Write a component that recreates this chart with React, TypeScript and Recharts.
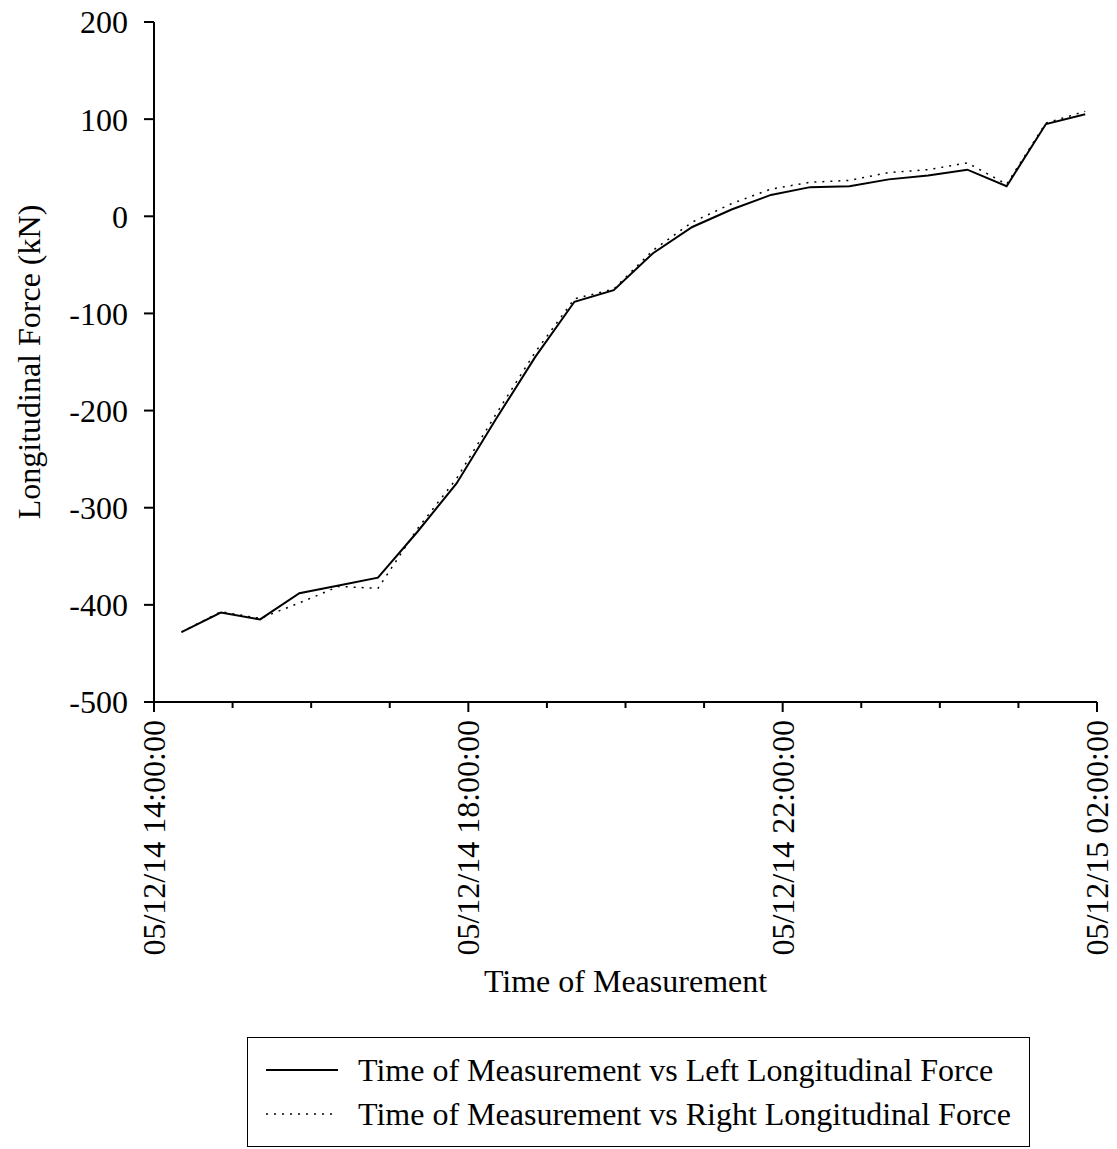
import React from 'react';
import { LineChart, Line, XAxis, YAxis, Legend } from 'recharts';

// hours after 05/12/14 14:00:00
const hours = [
  0.35, 0.85, 1.35, 1.85, 2.35, 2.85, 3.35, 3.85, 4.35, 4.85, 5.35, 5.85,
  6.35, 6.85, 7.35, 7.85, 8.35, 8.85, 9.35, 9.85, 10.35, 10.85, 11.35, 11.85,
];
const leftForce = [
  -428, -408, -415, -388, -380, -372, -325, -275, -209, -145, -88, -76,
  -38, -11, 7, 22, 30, 31, 38, 42, 48, 31, 95, 105,
];
const rightForce = [
  -428, -407, -414, -398, -381, -383, -322, -270, -204, -140, -85, -75,
  -35, -6, 13, 28, 35, 37, 45, 48, 55, 33, 96, 108,
];

const hourTicks = [0, 1, 2, 3, 4, 5, 6, 7, 8, 9, 10, 11, 12];
const majorTicks = [0, 4, 8, 12];
const majorLabels = ['05/12/14 14:00:00', '05/12/14 18:00:00', '05/12/14 22:00:00', '05/12/15 02:00:00'];
const yTicks = [-500, -400, -300, -200, -100, 0, 100, 200];

const data = hours.map((h, i) => ({ t: h, left: leftForce[i], right: rightForce[i] }));

const FONT = '"Liberation Serif", "Times New Roman", serif';
const lineStyles: Record<string, { dash?: string }> = {
  left: {},
  right: { dash: '2 6' },
};

const XTick = (props: any) => {
  const { x, y, payload } = props;
  const idx = majorTicks.indexOf(payload.value);
  const major = idx >= 0;
  const ly = y + 18;
  return (
    <g>
      <line x1={x} y1={y} x2={x} y2={y + (major ? 10 : 6)} stroke="#000" strokeWidth={2} />
      {major && (
        <text
          x={x}
          y={ly}
          transform={`rotate(-90, ${x}, ${ly})`}
          textAnchor="end"
          dominantBaseline="central"
          fontSize={32}
          fontFamily={FONT}
          fill="#000"
        >
          {majorLabels[idx]}
        </text>
      )}
    </g>
  );
};

const YTitle = (props: any) => {
  const { viewBox } = props;
  const cx = viewBox.x + 40;
  const cy = viewBox.y + viewBox.height / 2;
  return (
    <text x={cx} y={cy} transform={`rotate(-90, ${cx}, ${cy})`} textAnchor="middle" fontSize={32} fontFamily={FONT} fill="#000">
      Longitudinal Force (kN)
    </text>
  );
};

const XTitle = (props: any) => {
  const { viewBox } = props;
  return (
    <text x={viewBox.x + viewBox.width / 2} y={viewBox.y + 290} textAnchor="middle" fontSize={32} fontFamily={FONT} fill="#000">
      Time of Measurement
    </text>
  );
};

const renderLegend = (props: any) => {
  const { payload } = props;
  return (
    <div
      style={{
        border: '1px solid #000',
        padding: '10px 0 10px 18px',
        fontFamily: FONT,
        fontSize: 32,
        color: '#000',
        background: '#fff',
      }}
    >
      {(payload || []).map((entry: any) => (
        <div key={entry.value} style={{ display: 'flex', alignItems: 'center', height: 44 }}>
          <svg width={72} height={10} style={{ marginRight: 20 }}>
            <line
              x1={0}
              y1={5}
              x2={72}
              y2={5}
              stroke="#000"
              strokeWidth={lineStyles[entry.dataKey]?.dash ? 1.5 : 2}
              strokeDasharray={lineStyles[entry.dataKey]?.dash}
            />
          </svg>
          <span>{entry.value}</span>
        </div>
      ))}
    </div>
  );
};

export default function App() {
  return (
    <div style={{ position: 'absolute', left: 0, top: 0, background: '#fff' }}>
      <LineChart width={1117} height={1149} data={data} margin={{ top: 22, right: 20, left: 0, bottom: 0 }}>
        <XAxis
          dataKey="t"
          type="number"
          domain={[0, 12]}
          ticks={hourTicks}
          interval={0}
          height={447}
          tickSize={0}
          tickMargin={0}
          tickLine={false}
          axisLine={{ stroke: '#000', strokeWidth: 2 }}
          tick={<XTick />}
          label={<XTitle />}
        />
        <YAxis
          type="number"
          domain={[-500, 200]}
          ticks={yTicks}
          interval={0}
          width={154}
          tickSize={10}
          tickMargin={16}
          axisLine={{ stroke: '#000', strokeWidth: 2 }}
          tickLine={{ stroke: '#000', strokeWidth: 2 }}
          tick={{ fill: '#000', fontSize: 32, fontFamily: FONT }}
          label={<YTitle />}
        />
        <Legend
          layout="vertical"
          align="center"
          verticalAlign="middle"
          content={renderLegend}
          wrapperStyle={{ position: 'absolute', left: 247, top: 1037, width: 783 }}
        />
        <Line
          type="linear"
          dataKey="left"
          name="Time of Measurement vs Left Longitudinal Force"
          stroke="#000"
          strokeWidth={2}
          dot={false}
          isAnimationActive={false}
        />
        <Line
          type="linear"
          dataKey="right"
          name="Time of Measurement vs Right Longitudinal Force"
          stroke="#000"
          strokeWidth={1.5}
          strokeDasharray="2 6"
          dot={false}
          isAnimationActive={false}
        />
      </LineChart>
    </div>
  );
}
